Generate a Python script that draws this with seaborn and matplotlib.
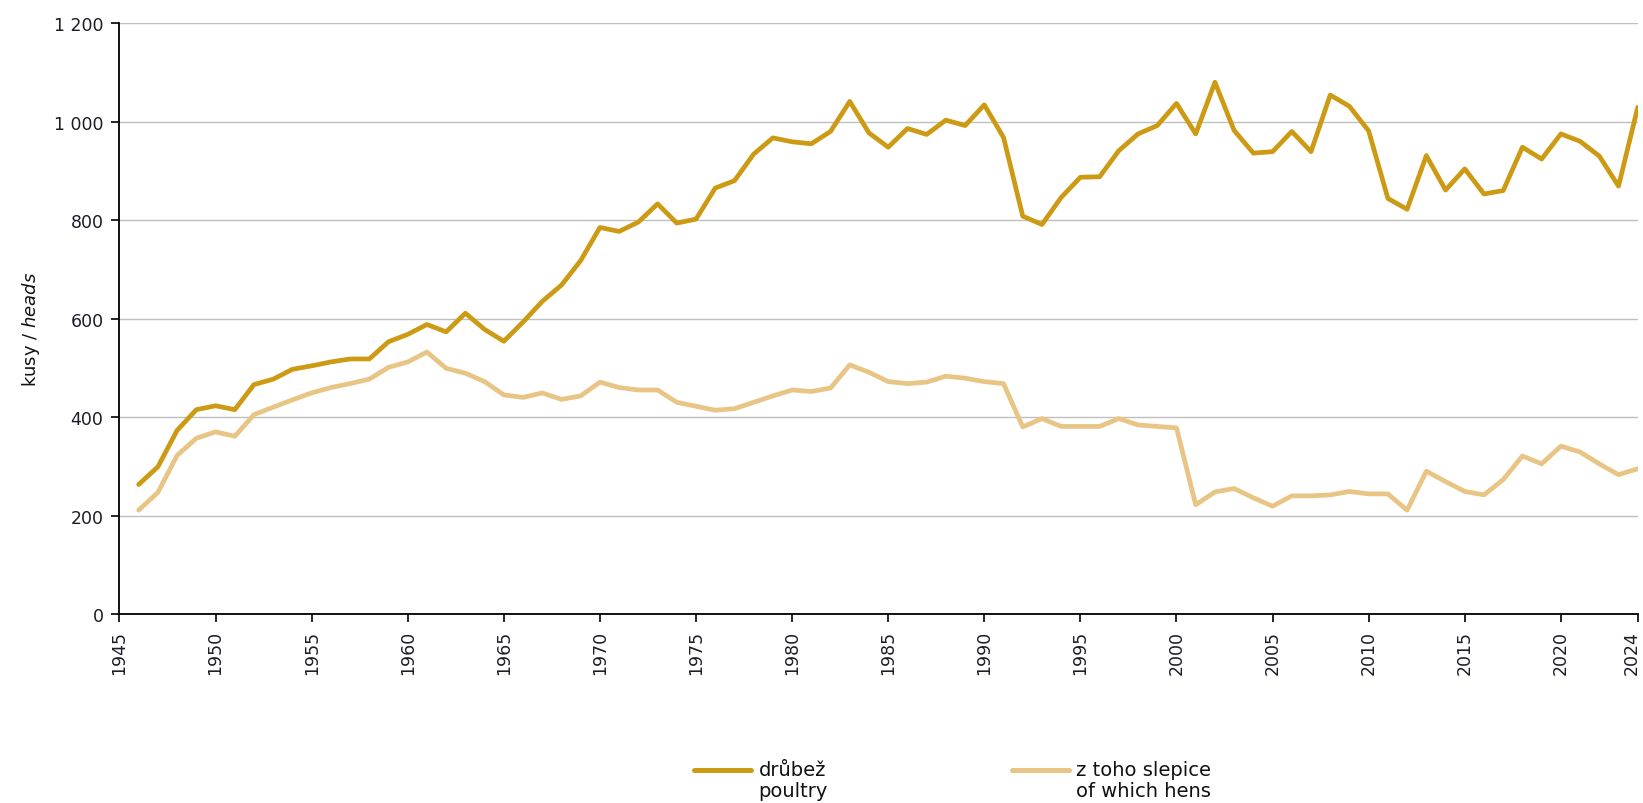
import matplotlib
matplotlib.use("Agg")
import matplotlib.pyplot as plt
import matplotlib.transforms as mtransforms
import numpy as np
import pandas as pd
import seaborn as sns
from matplotlib.ticker import FuncFormatter, FixedLocator

# ---- data ----
years = list(range(1946, 2025))
poultry = [263, 299, 373, 415, 423, 415, 466, 477, 497, 504,
           512, 518, 518, 553, 568, 588, 573, 611, 578, 554,
           593, 635, 668, 718, 785, 777, 796, 833, 794, 802,
           865, 880, 934, 967, 959, 955, 980, 1041, 977, 948,
           986, 974, 1003, 992, 1034, 968, 808, 791, 846, 887,
           888, 941, 975, 992, 1037, 975, 1080, 982, 936, 939,
           980, 939, 1054, 1031, 981, 844, 822, 931, 861, 904,
           853, 860, 948, 924, 975, 960, 930, 869, 1029]
hens = [211, 247, 322, 357, 370, 361, 405, 420, 435, 449,
        460, 468, 477, 501, 512, 532, 499, 489, 472, 445,
        440, 449, 436, 443, 471, 460, 455, 455, 430, 422,
        414, 417, 430, 443, 455, 452, 459, 506, 491, 472,
        468, 471, 483, 479, 472, 468, 380, 397, 381, 381,
        381, 397, 384, 381, 378, 222, 248, 255, 236, 219,
        240, 240, 242, 249, 244, 244, 211, 290, 269, 249,
        242, 273, 321, 305, 341, 329, 305, 283, 295]
series_labels = ["drůbež\npoultry", "z toho slepice\nof which hens"]
xtick_values = list(range(1945, 2021, 5)) + [2024]
ytick_values = [0, 200, 400, 600, 800, 1000, 1200]
colors = ["#CD9A14", "#E8C584"]

# ---- style ----
sns.set_theme(style="white")
plt.rcParams['font.family'] = ['DejaVu Sans']
plt.rcParams['mathtext.fontset'] = 'dejavusans'

n = len(years)
df = pd.DataFrame({
    "year": years * 2,
    "value": poultry + hens,
    "series": [series_labels[0]] * n + [series_labels[1]] * n,
})

fig = plt.figure(figsize=(16.43, 8.04), dpi=100)
ax = fig.add_axes([0.0727, 0.235, 0.9241, 0.735])

sns.lineplot(data=df, x="year", y="value", hue="series",
             palette=colors, linewidth=3.4, ax=ax, legend=False,
             solid_joinstyle="round", solid_capstyle="round")

ax.set_xlim(1945, 2024)
ax.set_ylim(0, 1200)
ax.xaxis.set_major_locator(FixedLocator(xtick_values))
ax.yaxis.set_major_locator(FixedLocator(ytick_values))
ax.yaxis.set_major_formatter(FuncFormatter(lambda v, p: f"{v:,.0f}".replace(",", " ")))
ax.set_xticklabels([str(v) for v in xtick_values], rotation=90)

ax.yaxis.grid(True, color="#BFBFBF", linewidth=1.0)
ax.xaxis.grid(False)
ax.set_axisbelow(True)
for s in ["top", "right"]:
    ax.spines[s].set_visible(False)
for s in ["left", "bottom"]:
    ax.spines[s].set_color("black")
    ax.spines[s].set_linewidth(1.3)

ax.tick_params(axis="both", which="major", direction="out", length=6, width=1.2,
               color="black", labelsize=12.5, labelcolor="#1c1c2a", pad=5.5,
               bottom=True, left=True)

# keep the last (2024) label inside the figure edge
last_lbl = ax.get_xticklabels()[-1]
last_lbl.set_transform(last_lbl.get_transform() +
                       mtransforms.ScaledTranslation(-6 / 100, 0, fig.dpi_scale_trans))

ax.set_xlabel("")
ax.set_ylabel(r"kusy / $\it{heads}$", fontsize=13, color="#111111")
ax.yaxis.set_label_coords(-0.051, 0.484)

handles = ax.get_lines()[:2]
leg = fig.legend(handles=handles, labels=series_labels, loc="center",
                 bbox_to_anchor=(0.58, 0.0286), ncol=2, frameon=False,
                 fontsize=14, handlelength=2.93, handletextpad=0.36,
                 columnspacing=9.5, borderpad=0.2)
for t in leg.get_texts():
    t.set_color("#111111")
    t.set_linespacing(1.1)
for ln in leg.get_lines():
    ln.set_linewidth(3.6)
    ln.set_ydata(np.asarray(ln.get_ydata()) + 7.7)

fig.savefig("out.png", dpi=100)
